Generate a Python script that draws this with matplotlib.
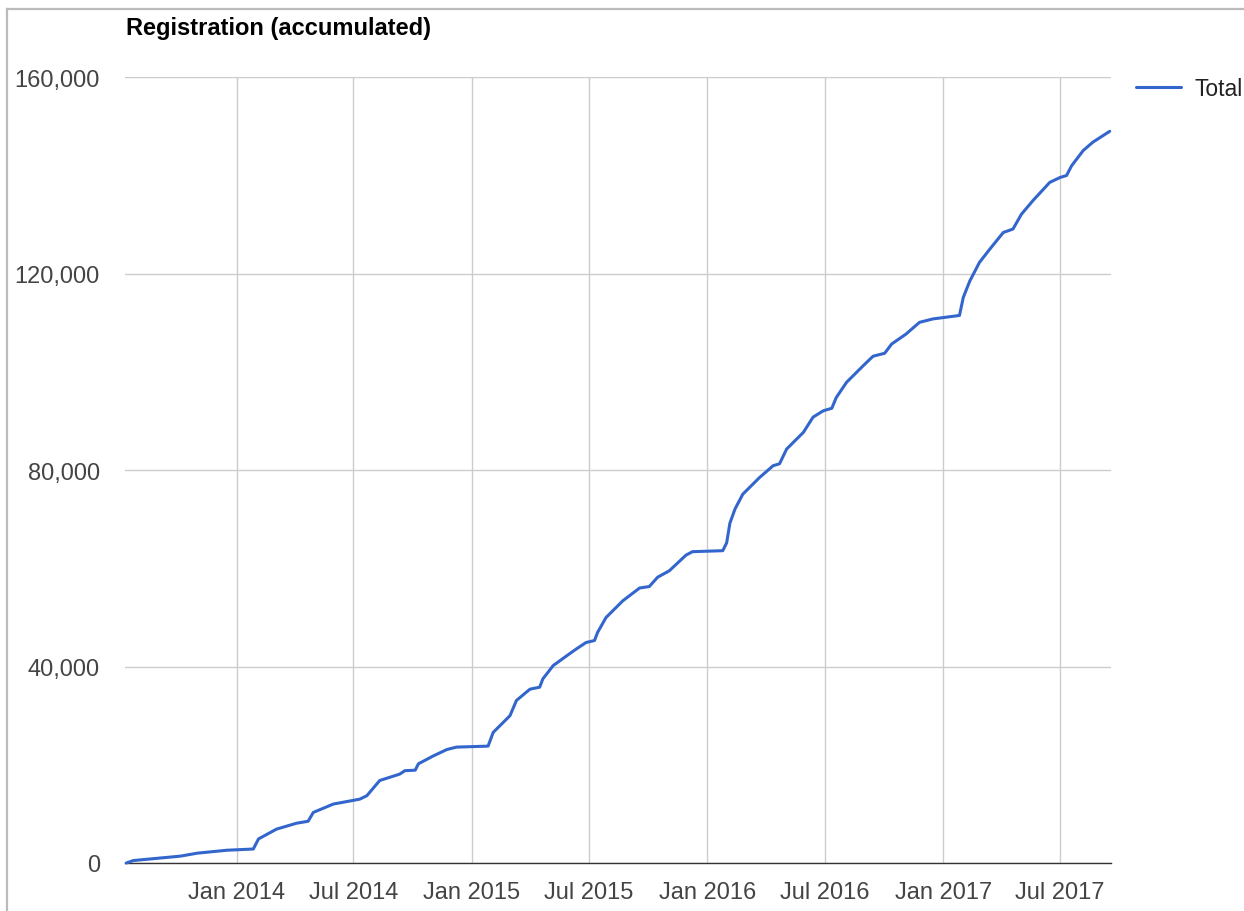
import matplotlib
matplotlib.use("Agg")
import matplotlib.pyplot as plt
import matplotlib.dates as mdates
from matplotlib.ticker import FuncFormatter
import numpy as np

plt.rcParams['font.family'] = ['Liberation Sans', 'DejaVu Sans']

title = "Registration (accumulated)"
series_name = "Total"
dates = [
    "2013-07-14", "2013-07-25", "2013-10-06", "2013-11-01", "2013-12-17",
    "2014-01-27", "2014-02-04", "2014-03-04", "2014-04-04", "2014-04-22",
    "2014-04-30", "2014-05-31", "2014-07-11", "2014-07-22", "2014-08-11",
    "2014-09-11", "2014-09-19", "2014-10-05", "2014-10-10", "2014-11-02",
    "2014-11-23", "2014-12-08", "2015-01-26", "2015-02-03", "2015-03-01",
    "2015-03-11", "2015-04-01", "2015-04-16", "2015-04-21", "2015-05-07",
    "2015-05-28", "2015-06-12", "2015-06-27", "2015-07-10", "2015-07-15",
    "2015-07-28", "2015-08-23", "2015-09-18", "2015-10-03", "2015-10-16",
    "2015-11-03", "2015-11-29", "2015-12-09", "2016-01-25", "2016-01-31",
    "2016-02-05", "2016-02-13", "2016-02-25", "2016-03-22", "2016-04-12",
    "2016-04-22", "2016-05-03", "2016-05-29", "2016-06-13", "2016-06-29",
    "2016-07-12", "2016-07-19", "2016-08-04", "2016-08-30", "2016-09-14",
    "2016-10-02", "2016-10-13", "2016-11-04", "2016-11-25", "2016-12-16",
    "2017-01-26", "2017-02-01", "2017-02-11", "2017-02-26", "2017-03-14",
    "2017-04-04", "2017-04-19", "2017-05-02", "2017-05-20", "2017-06-15",
    "2017-07-01", "2017-07-11", "2017-07-19", "2017-08-06", "2017-08-21",
    "2017-09-16",
]
totals = [
    0, 500, 1400, 2000, 2600,
    2850, 4900, 6900, 8100, 8500,
    10300, 12000, 13000, 13700, 16800,
    18100, 18800, 18900, 20200, 21800,
    23100, 23600, 23800, 26600, 30000,
    33100, 35400, 35800, 37500, 40200,
    42200, 43600, 44900, 45300, 47000,
    50000, 53400, 56000, 56300, 58200,
    59500, 62700, 63400, 63600, 65200,
    69200, 72100, 75100, 78500, 80900,
    81300, 84300, 87700, 90800, 92100,
    92600, 94800, 97900, 101300, 103200,
    103800, 105700, 107700, 110100, 110800,
    111500, 115200, 118500, 122300, 125000,
    128400, 129100, 132100, 134900, 138600,
    139600, 140000, 142000, 145100, 146800,
    149000,
]
y_ticks = [0, 40000, 80000, 120000, 160000]
x_ticks = ["2014-01-01", "2014-07-01", "2015-01-01", "2015-07-01",
           "2016-01-01", "2016-07-01", "2017-01-01", "2017-07-01"]
x_range = ["2013-07-12", "2017-09-18"]

W, H = 1244, 912
fig = plt.figure(figsize=(W / 100, H / 100), dpi=100)
ax = fig.add_axes([125 / W, 1 - 864 / H, (1111 - 125) / W, (864 - 78.3) / H])

x = np.array(dates, dtype="datetime64[D]")
line, = ax.plot(x, totals, color="#3366CC", lw=2.2, solid_joinstyle="round",
                solid_capstyle="round", label=series_name, zorder=3, clip_on=False)

ax.set_xlim(np.datetime64(x_range[0]), np.datetime64(x_range[1]))
ax.set_ylim(0, 160000)
ax.set_yticks(y_ticks)
ax.set_xticks(np.array(x_ticks, dtype="datetime64[D]"))
ax.xaxis.set_major_formatter(mdates.DateFormatter("%b %Y"))
ax.yaxis.set_major_formatter(FuncFormatter(lambda v, p: f"{int(v):,}"))

ax.grid(True, color="#cccccc", lw=1.0, zorder=0)
ax.set_axisbelow(True)
for s in ["top", "right", "left"]:
    ax.spines[s].set_visible(False)
ax.spines["bottom"].set_color("#333333")
ax.spines["bottom"].set_linewidth(1.0)
ax.spines["bottom"].set_zorder(2)
ax.tick_params(axis="both", length=0, labelsize=17, labelcolor="#444444")
ax.tick_params(axis="y", pad=18)
ax.tick_params(axis="x", pad=13)

fig.text(126 / W, 1 - 28 / H, title, fontsize=17, fontweight="bold",
         color="#000000", ha="left", va="center")

# legend
fig.legend(handles=[line], labels=[series_name], loc="center left",
           bbox_to_anchor=(1136 / W, 1 - 90 / H), frameon=False,
           fontsize=16.5, handlelength=1.95, handletextpad=0.6,
           labelcolor="#222222", borderaxespad=0, borderpad=0)

# outer frame (top and left visible)
fig.add_artist(plt.Line2D([7 / W, 1243 / W], [1 - 10 / H, 1 - 10 / H],
                          color="#bbbbbb", lw=1.6, transform=fig.transFigure))
fig.add_artist(plt.Line2D([7 / W, 7 / W], [1 - 10 / H, 0],
                          color="#bbbbbb", lw=1.6, transform=fig.transFigure))

fig.savefig("out.png", dpi=100, facecolor="white")
